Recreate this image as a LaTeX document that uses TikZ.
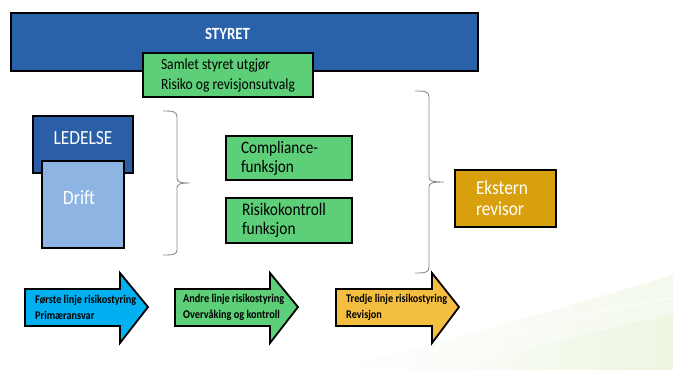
\documentclass[tikz,border=0pt]{standalone}
\usepackage{fontspec}
\setmainfont{Carlito}
\usetikzlibrary{fadings}
\definecolor{styreblue}{HTML}{2962AB}
\definecolor{ledblue}{HTML}{2A5FA8}
\definecolor{driftblue}{HTML}{8EB4E3}
\definecolor{boxgreen}{HTML}{5CCF78}
\definecolor{revgold}{HTML}{D9A00E}
\definecolor{arrblue}{HTML}{00B0F0}
\definecolor{arrgold}{HTML}{F4BE41}
\definecolor{bgswoosh}{HTML}{E6F1D6}
\newlength\fitlen
\newcommand\fitfont[3]{%
  \settowidth\fitlen{\fontsize{10}{12}\selectfont #2}%
  \pgfmathsetmacro\fitfs{10*#1/\the\fitlen}%
  \fontsize{\fitfs}{#3}\selectfont}
\tikzset{
  stretch/.style={yscale=1.15},
  boxline/.style={draw=black, line width=1.8pt},
  plainbox/.style={boxline, rectangle, inner sep=0pt},
  textbox/.style={plainbox, stretch, line width=1.65pt},
  bracestyle/.style={draw=gray!90, line width=0.9pt},
  arrowshape/.style={draw=black, line width=1.8pt, line join=miter},
  arrtext/.style={align=left, anchor=west, inner sep=0pt, stretch},
}
\begin{document}
\begin{tikzpicture}[x=1pt,y=-1pt]
\useasboundingbox (0,0) rectangle (673,370);
% faint background swoosh
\fill[bgswoosh, path fading=west, opacity=0.45] (330,370) .. controls (470,335) and (590,300) .. (673,275) -- (673,370) -- cycle;
\fill[bgswoosh, path fading=west, opacity=0.45] (450,370) .. controls (540,345) and (620,325) .. (673,315) -- (673,370) -- cycle;
\draw[white, line width=1pt, opacity=0.8] (430,352) .. controls (520,328) and (610,308) .. (673,298);
% STYRET
\node[plainbox, fill=styreblue, minimum width=467pt, minimum height=58pt] (styret) at (244.5,42) {};
\node[text=white, font=\bfseries\fitfont{45}{STYRET}{17}, inner sep=0pt, stretch] (styrettxt) at (227.5,33.5) {STYRET};
% Samlet
\node[textbox, fill=boxgreen, minimum width=170pt, minimum height=38.3pt, align=left, font=\fitfont{134}{Risiko og revisjonsutvalg}{17.4}] (samlet) at (228,75) {Samlet styret utgjør\\Risiko og revisjonsutvalg};
% LEDELSE / Drift
\node[plainbox, fill=ledblue, minimum width=100pt, minimum height=57pt] (ledelse) at (83,144.5) {};
\node[text=white, font=\fitfont{59}{LEDELSE}{20}, inner sep=0pt, stretch] (ledtxt) at (83,138) {LEDELSE};
\node[plainbox, fill=driftblue, minimum width=82pt, minimum height=87pt] (drift) at (83,204.5) {};
\node[text=white, font=\fitfont{32}{Drift}{20}, inner sep=0pt, stretch] (drifttxt) at (79,198) {Drift};
% braces
\draw[bracestyle] (163,111) .. controls (172,111) and (177,111) .. (177,117) -- (177,178) .. controls (177,182) and (180,183) .. (190,183) .. controls (180,183) and (177,184) .. (177,188) -- (177,250) .. controls (177,255) and (172,255) .. (163,255);
\draw[bracestyle] (415,91) .. controls (424,91) and (429,91) .. (429,97) -- (429,177) .. controls (429,181) and (432,182) .. (444,182) .. controls (432,182) and (429,183) .. (429,187) -- (429,267) .. controls (429,273) and (424,273) .. (415,273);
% middle boxes
\node[textbox, fill=boxgreen, minimum width=126pt, minimum height=38.3pt, text width=96pt, align=left, font=\fitfont{77}{Compliance-}{16.5}] (compl) at (289,158) {Compliance-\\funksjon};
\node[textbox, fill=boxgreen, minimum width=126pt, minimum height=39.1pt, text width=94pt, align=left, font=\fitfont{84}{Risikokontroll}{16.5}] (risk) at (289,220.5) {Risikokontroll\\funksjon};
% Ekstern revisor
\node[textbox, fill=revgold, minimum width=101pt, minimum height=49.6pt, text width=59pt, align=left, text=white, font=\fitfont{52}{Ekstern}{18.3}] (ekstern) at (505.5,198.5) {Ekstern\\revisor};
% arrows
\draw[arrowshape, fill=arrblue] (25,289) -- (120,289) -- (120,273) -- (148,307) -- (120,343) -- (120,326) -- (25,326) -- cycle;
\node[arrtext, font=\bfseries\fitfont{101}{Første linje risikostyring}{13.9}] (a1) at (35,307) {Første linje risikostyring\\Primæransvar};
\draw[arrowshape, fill=boxgreen] (175,289) -- (270,289) -- (270,273) -- (298,307) -- (270,343) -- (270,326) -- (175,326) -- cycle;
\node[arrtext, font=\bfseries\fitfont{101}{Andre linje risikostyring}{13.9}] (a2) at (183,307) {Andre linje risikostyring\\Overvåking og kontroll};
\draw[arrowshape, fill=arrgold] (336,289) -- (432,289) -- (432,273) -- (459,307) -- (432,343) -- (432,326) -- (336,326) -- cycle;
\node[arrtext, font=\bfseries\fitfont{101}{Tredje linje risikostyring}{13.9}] (a3) at (346,307) {Tredje linje risikostyring\\Revisjon};
\end{tikzpicture}
\end{document}
